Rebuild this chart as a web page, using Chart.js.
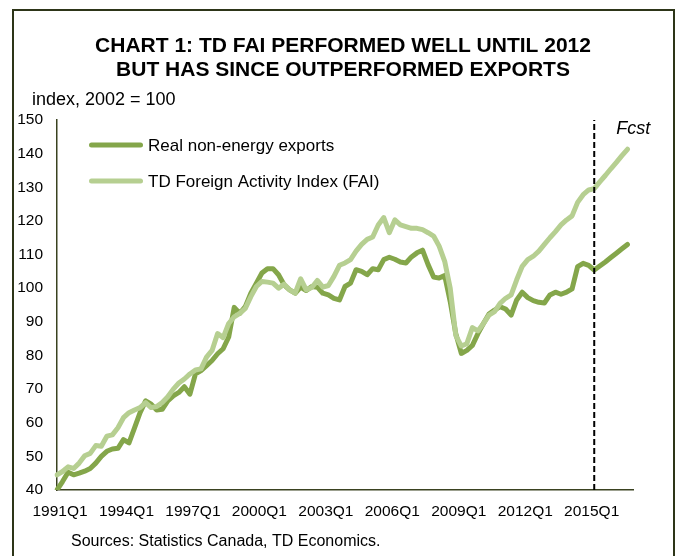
<!DOCTYPE html>
<html><head><meta charset="utf-8">
<script src="https://cdn.jsdelivr.net/npm/chart.js@4/dist/chart.umd.min.js"></script>
<style>html,body{margin:0;padding:0;background:#fff}#wrap{width:678px;height:556px;position:relative}</style>
</head><body><div id="wrap"><canvas id="c" width="678" height="556"></canvas></div>
<script>
// Categories: quarters 1991Q1 .. 2017Q1
const firstYear = 1991, lastYear = 2017;
const quarters = [];
for (let y = firstYear; y <= lastYear; y++) for (let q = 1; q <= 4; q++) quarters.push(y + 'Q' + q);
quarters.length = 105;

const tickLabels = ['1991Q1','1994Q1','1997Q1','2000Q1','2003Q1','2006Q1','2009Q1','2012Q1','2015Q1'];
const yTickValues = [40,50,60,70,80,90,100,110,120,130,140,150];
const forecastStart = '2015Q2';

const seriesNames = ['Real non-energy exports','TD Foreign Activity Index (FAI)'];

const exportsIdx = [
40.0,42.5,45.3,44.5,45.0,45.6,46.4,48.0,50.0,51.5,52.2,52.4,
55.0,54.0,58.5,63.0,66.5,65.5,63.8,64.0,66.5,68.0,69.0,70.7,
68.5,74.5,75.5,77.0,78.5,80.5,82.0,85.5,94.3,92.5,94.5,98.5,
101.5,104.5,105.8,105.8,104.0,101.0,99.5,98.5,100.3,99.3,100.5,100.3,
98.5,98.0,97.0,96.5,100.5,101.5,105.5,105.0,104.0,105.8,105.5,108.5,
109.2,108.6,107.8,107.5,109.3,110.5,111.3,107.0,103.3,103.0,103.8,96.0,
86.5,80.6,81.5,83.0,86.5,89.5,92.3,93.5,94.5,93.8,92.0,96.5,
98.8,97.2,96.3,95.8,95.6,98.0,98.8,98.2,98.8,99.8,106.4,107.4,
106.8,105.4,106.6,107.8,109.1,110.4,111.7,113.0
];

const faiIdx = [
44.5,45.5,46.9,46.4,48.0,50.2,50.9,53.2,53.0,56.0,56.4,58.5,
61.5,63.0,63.8,64.5,66.0,64.5,64.8,66.0,67.7,70.0,71.8,73.0,
74.5,75.7,76.0,79.5,81.5,86.5,85.3,89.5,91.5,92.5,94.0,97.5,
100.5,102.0,101.8,101.5,100.0,101.2,99.5,98.5,102.8,99.5,100.2,102.3,
100.3,100.8,103.5,106.8,107.5,108.5,111.0,113.0,114.5,115.2,118.8,121.0,
116.5,120.3,118.8,118.3,117.8,117.8,117.4,116.5,115.5,112.5,108.0,100.0,
86.0,82.8,83.5,88.3,87.3,89.5,92.0,93.0,95.5,97.0,98.0,102.5,
106.5,108.5,109.5,111.0,113.0,115.0,116.8,118.8,120.3,121.5,125.5,127.8,
129.2,129.6,131.6,133.5,135.5,137.4,139.4,141.3
];

const colors = ['#84a64a', '#b6cf91'];
const FONT = '"Liberation Sans", Arial, sans-serif';

const decor = {
  id: 'decor',
  afterDraw(chart) {
    const ctx = chart.ctx;
    const xs = chart.scales.x;
    ctx.save();
    // frame
    ctx.strokeStyle = '#2d3518';
    ctx.lineWidth = 2;
    ctx.strokeRect(13, 10, 661, 560);
    // title
    ctx.fillStyle = '#000';
    ctx.textAlign = 'center';
    ctx.textBaseline = 'alphabetic';
    ctx.font = 'bold 21px ' + FONT;
    ctx.fillText('CHART 1: TD FAI PERFORMED WELL UNTIL 2012', 343, 52);
    ctx.fillText('BUT HAS SINCE OUTPERFORMED EXPORTS', 343, 76);
    // unit label
    ctx.textAlign = 'left';
    ctx.font = '18px ' + FONT;
    ctx.fillText('index, 2002 = 100', 32, 105);
    // legend
    const legY = [145, 181];
    ctx.font = '17px ' + FONT;
    ctx.textBaseline = 'middle';
    for (let i = 0; i < 2; i++) {
      ctx.strokeStyle = colors[i];
      ctx.lineWidth = 5;
      ctx.lineCap = 'round';
      ctx.beginPath();
      ctx.moveTo(91.5, legY[i]);
      ctx.lineTo(140.5, legY[i]);
      ctx.stroke();
      ctx.fillStyle = '#000';
      ctx.fillText(seriesNames[i], 148, legY[i] + 1);
    }
    // Fcst
    const fx = xs.getPixelForValue(quarters.indexOf(forecastStart));
    ctx.font = 'italic 18px ' + FONT;
    ctx.textBaseline = 'alphabetic';
    ctx.fillText('Fcst', fx + 22, 134);
    // sources
    ctx.font = '16px ' + FONT;
    ctx.fillText('Sources: Statistics Canada, TD Economics.', 71, 546);
    ctx.restore();
  }
};

new Chart(document.getElementById('c'), {
  type: 'line',
  data: {
    labels: quarters,
    datasets: [
      { label: seriesNames[0], data: exportsIdx, borderColor: colors[0], borderWidth: 5, order: 1 },
      { label: seriesNames[1], data: faiIdx, borderColor: colors[1], borderWidth: 5, order: 0 },
      { label: 'Forecast start', data: [{x: forecastStart, y: 40}, {x: forecastStart, y: 150}],
        borderColor: '#000', borderWidth: 2, borderDash: [6, 3], borderCapStyle: 'butt', order: -1 }
    ]
  },
  options: {
    responsive: false,
    devicePixelRatio: 1,
    animation: false,
    layout: { padding: { top: 120, right: 45, left: 0, bottom: 0 } },
    elements: {
      line: { tension: 0, borderCapStyle: 'round', borderJoinStyle: 'round', fill: false },
      point: { radius: 0, hoverRadius: 0 }
    },
    plugins: { legend: { display: false }, tooltip: { enabled: false }, title: { display: false } },
    scales: {
      x: {
        type: 'category',
        offset: false,
        grid: { display: false, drawTicks: false },
        border: { display: true, color: '#3a4220', width: 1.5 },
        ticks: {
          autoSkip: false, maxRotation: 0, minRotation: 0, padding: 12, labelOffset: 3,
          color: '#000', font: { family: FONT, size: 15.5 },
          callback: function(v, i) { const l = quarters[i]; return tickLabels.includes(l) ? l : ''; }
        },
        afterFit: s => { s.height = 66; }
      },
      y: {
        min: 40, max: 150,
        grid: { display: false, drawTicks: false },
        border: { display: true, color: '#3a4220', width: 1.5 },
        afterBuildTicks: s => { s.ticks = yTickValues.map(v => ({ value: v })); },
        ticks: { color: '#000', padding: 14, font: { family: FONT, size: 15.5 } },
        afterFit: s => { s.width = 57; }
      }
    }
  },
  plugins: [decor]
});
</script></body></html>
